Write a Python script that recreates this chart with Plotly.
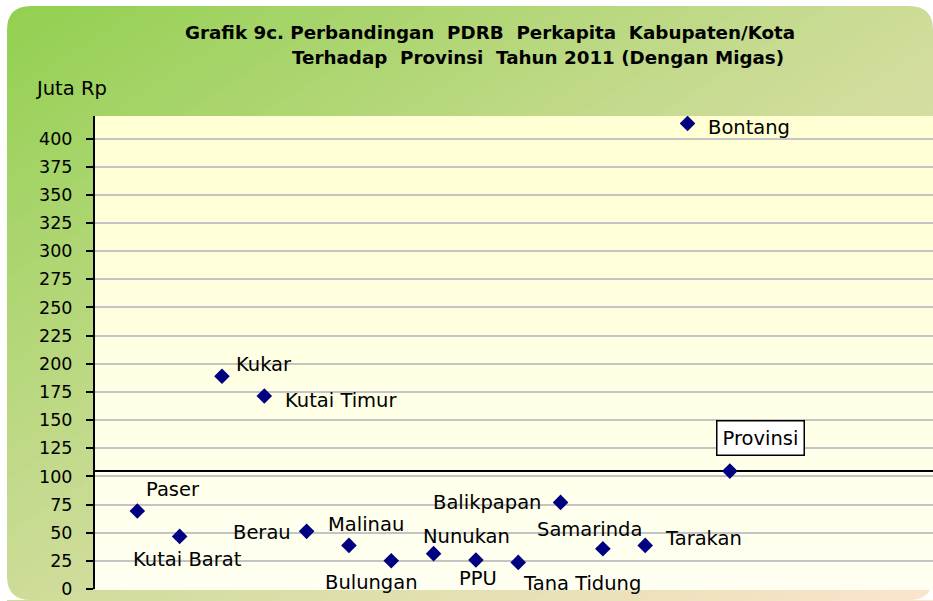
import plotly.graph_objects as go

# ---------------- data ----------------
categories = ["Paser", "Kutai Barat", "Kukar", "Kutai Timur", "Berau", "Malinau",
              "Bulungan", "Nunukan", "PPU", "Tana Tidung", "Balikpapan",
              "Samarinda", "Tarakan", "Bontang", "Provinsi"]
values = [69.2, 46.7, 188.9, 171.4, 51.2, 38.7, 25.1, 31.4, 25.7, 23.6,
          76.9, 35.8, 38.7, 413.4, 104.7]
y_ticks = list(range(0, 401, 25))
title_line1 = "Grafik 9c. Perbandingan  PDRB  Perkapita  Kabupaten/Kota"
title_line2 = "Terhadap  Provinsi  Tahun 2011 (Dengan Migas)"
y_unit = "Juta Rp"
reference_name = "Provinsi"

# ---------------- layout geometry (pixels) ----------------
FIG_W, FIG_H = 933, 601
L, R, T, B = 95, 0, 116, 12
PW = FIG_W - L - R
PH = FIG_H - T - B


def px(xp):
    return (xp - L) / PW


def py(yp):
    return (FIG_H - B - yp) / PH


FONT = "DejaVu Sans"

# label placement: (xanchor, dx px, dy px (screen, down positive))
label_pos = {
    "Paser": ("left", 7, -21.7),
    "Kutai Barat": ("center", 7.5, 23.3),
    "Kukar": ("left", 12.3, -12),
    "Kutai Timur": ("left", 18.3, 4.5),
    "Berau": ("right", -13.3, 0.7),
    "Malinau": ("center", 17.4, -21),
    "Bulungan": ("center", -19.4, 21.5),
    "Nunukan": ("center", 33, -17),
    "PPU": ("center", 2, 18),
    "Tana Tidung": ("left", 2.7, 21.2),
    "Balikpapan": ("right", -17.7, 0.3),
    "Samarinda": ("center", -13, -19.6),
    "Tarakan": ("left", 18, -6.5),
    "Bontang": ("left", 18.4, 3.7),
    "Provinsi": ("center", 30.4, -32.7),
}

xs = list(range(1, len(categories) + 1))

fig = go.Figure()
fig.add_trace(go.Scatter(
    x=xs, y=values, mode="markers",
    marker=dict(symbol="diamond", size=12, color="#000080"),
    text=categories, hoverinfo="text+y", showlegend=False,
))

shapes = []

# ---------- outer frame with diagonal gradient ----------
FX0, FY0, FX1, FY1 = 7, 6, 933, 600
FW, FH = FX1 - FX0, FY1 - FY0
stops = [(0.0, (146, 208, 80)), (0.5, (205, 220, 152)), (1.0, (252, 228, 205))]


def grad(t):
    for (t0, c0), (t1, c1) in zip(stops[:-1], stops[1:]):
        if t <= t1:
            f = (t - t0) / (t1 - t0)
            return tuple(round(a + (b - a) * f) for a, b in zip(c0, c1))
    return stops[-1][1]


N = 70
ya, yb = -30, 640
for k in range(N):
    c0 = 2 * k / N
    c1 = 2 * (k + 1) / N + 0.004

    def xl(c, yy):
        return FX0 + FW * (c - (yy - FY0) / FH)
    pts = [(xl(c0, ya), ya), (xl(c1, ya), ya), (xl(c1, yb), yb), (xl(c0, yb), yb)]
    path = "M " + " L ".join(f"{px(a):.5f},{py(b):.5f}" for a, b in pts) + " Z"
    col = grad((k + 0.5) / N)
    shapes.append(dict(type="path", xref="paper", yref="paper", path=path,
                       fillcolor=f"rgb{col}", line=dict(width=0), layer="below"))

# white masks outside frame
shapes.append(dict(type="rect", xref="paper", yref="paper", x0=px(-10), x1=px(FX0),
                   y0=py(-10), y1=py(FIG_H + 10), fillcolor="white", line=dict(width=0), layer="below"))
shapes.append(dict(type="rect", xref="paper", yref="paper", x0=px(-10), x1=px(FIG_W + 10),
                   y0=py(-10), y1=py(FY0), fillcolor="white", line=dict(width=0), layer="below"))
rad = 24
corners = [
    ((FX0, FY0), (FX0 + rad, FY0), (FX0, FY0 + rad)),
    ((FX1, FY0), (FX1 - rad, FY0), (FX1, FY0 + rad)),
    ((FX0, FY1), (FX0 + rad, FY1), (FX0, FY1 - rad)),
    ((FX1, FY1), (FX1 - rad, FY1), (FX1, FY1 - rad)),
]
for (cx, cy), (ax_, ay_), (bx, by) in corners:
    path = (f"M {px(cx):.5f},{py(cy):.5f} L {px(ax_):.5f},{py(ay_):.5f} "
            f"Q {px(cx):.5f},{py(cy):.5f} {px(bx):.5f},{py(by):.5f} Z")
    shapes.append(dict(type="path", xref="paper", yref="paper", path=path,
                       fillcolor="white", line=dict(width=0), layer="below"))

# ---------- plot-area background (light yellow gradient) ----------
NB = 30
top_c, bot_c = (255, 255, 210), (255, 255, 242)
for k in range(NB):
    f = (k + 0.5) / NB
    col = tuple(round(a + (b - a) * f) for a, b in zip(top_c, bot_c))
    shapes.append(dict(type="rect", xref="paper", yref="paper", x0=0, x1=1,
                       y0=1 - (k + 1) / NB - 0.002, y1=1 - k / NB,
                       fillcolor=f"rgb{col}", line=dict(width=0), layer="below"))

# ---------- reference line at Provinsi value ----------
ref_val = values[categories.index(reference_name)]
shapes.append(dict(type="line", xref="paper", yref="y", x0=0, x1=1, y0=ref_val, y1=ref_val,
                   line=dict(color="black", width=2), layer="between"))

annotations = []
for i, (name, v) in enumerate(zip(categories, values)):
    anchor, dx, dy = label_pos[name]
    a = dict(x=xs[i], y=v, xref="x", yref="y", text=name, showarrow=False,
             xanchor=anchor, yanchor="middle", xshift=dx, yshift=-dy,
             font=dict(family=FONT, size=19.5, color="black"))
    if name == reference_name:
        a.update(bgcolor="white", bordercolor="black", borderwidth=1.5, borderpad=5)
    annotations.append(a)

annotations.append(dict(x=px(183), y=py(32), xref="paper", yref="paper", text=title_line1,
                        showarrow=False, xanchor="left", yanchor="middle",
                        font=dict(family=FONT, size=18.3, color="black", weight="bold")))
annotations.append(dict(x=px(290), y=py(58), xref="paper", yref="paper", text=title_line2,
                        showarrow=False, xanchor="left", yanchor="middle",
                        font=dict(family=FONT, size=18.3, color="black", weight="bold")))
annotations.append(dict(x=px(33), y=py(88), xref="paper", yref="paper", text=y_unit,
                        showarrow=False, xanchor="left", yanchor="middle",
                        font=dict(family=FONT, size=19.5, color="black")))

fig.update_layout(
    width=FIG_W, height=FIG_H,
    margin=dict(l=L, r=R, t=T, b=B, pad=0),
    paper_bgcolor="white", plot_bgcolor="rgba(0,0,0,0)",
    shapes=shapes, annotations=annotations, showlegend=False,
    xaxis=dict(range=[0, 19.8], visible=False, showgrid=False, zeroline=False),
    yaxis=dict(range=[0, 420], tickvals=y_ticks, ticktext=[str(t) for t in y_ticks],
               showgrid=True, gridcolor="#C4C4C4", gridwidth=1.5, zeroline=False,
               showline=True, linecolor="black", linewidth=2,
               ticks="outside", ticklen=7, tickwidth=2, tickcolor="black",
               ticklabelstandoff=10,
               tickfont=dict(family=FONT, size=17.5, color="black")),
)

fig.write_html("out.html", config={"displayModeBar": False},
               post_script="document.body.style.margin='0';document.body.style.padding='0';")
